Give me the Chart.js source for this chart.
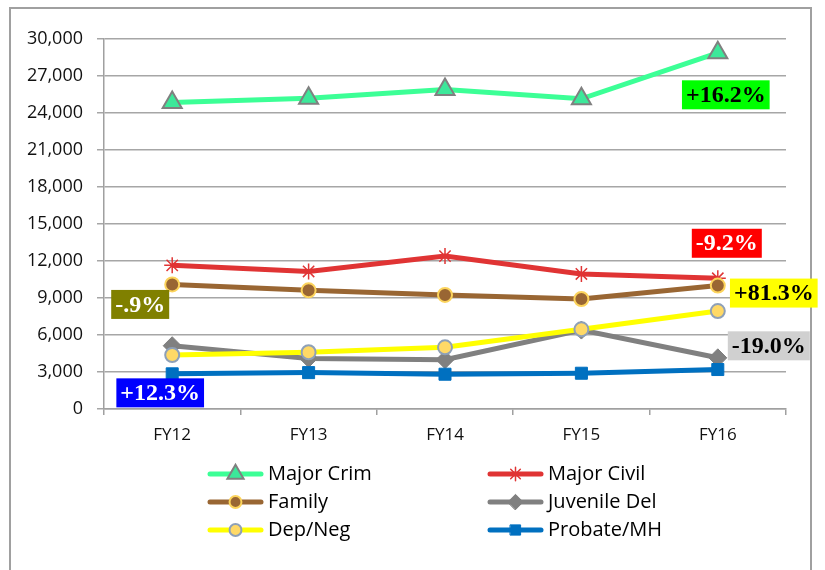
<!DOCTYPE html>
<html>
<head>
<meta charset="utf-8">
<script src="https://cdn.jsdelivr.net/npm/chart.js@4/dist/chart.umd.min.js"></script>
<style>
  html, body { margin: 0; padding: 0; background: #fff; }
  canvas { display: block; }
</style>
</head>
<body>
<canvas id="caseChart" width="825" height="570"></canvas>
<script>
// fiscal years and filings per case type
const years = ["FY12", "FY13", "FY14", "FY15", "FY16"]
const seriesNames = ["Major Crim", "Major Civil", "Family", "Juvenile Del", "Dep/Neg", "Probate/MH"]
const majorCrim = [24850, 25200, 25900, 25150, 28880]
const majorCivil = [11650, 11150, 12400, 10950, 10600]
const family = [10100, 9620, 9250, 8920, 10010]
const juvenileDel = [5130, 4100, 4000, 6400, 4150]
const depNeg = [4380, 4600, 5000, 6460, 7940]
const probateMH = [2850, 2950, 2820, 2900, 3200]
const yTicks = [0, 3000, 6000, 9000, 12000, 15000, 18000, 21000, 24000, 27000, 30000]

// change FY12 -> FY16 callouts: text, series index, year index
const changeText = ["+16.2%", "-9.2%", "+81.3%", "-19.0%", "-.9%", "+12.3%"]
const changeSeries = [0, 1, 4, 3, 2, 5]
const changeYear = [4, 4, 4, 4, 0, 0]

// look of each callout (offset from its point, colours)
const calloutStyle = [
  { dx: 8, dy: 42, bg: "#00ff00", fg: "#000" },
  { dx: 9, dy: -35, bg: "#ff0000", fg: "#fff" },
  { dx: 56, dy: -18, bg: "#ffff00", fg: "#000" },
  { dx: 51, dy: -12, bg: "#d0d0d0", fg: "#000" },
  { dx: -32, dy: 20, bg: "#808000", fg: "#fff" },
  { dx: -12, dy: 19, bg: "#0000ff", fg: "#fff" },
]

const allValues = [majorCrim, majorCivil, family, juvenileDel, depNeg, probateMH]

const looks = [
  { line: "#3cff96", style: "triangle", r: 11, fill: "#3ce89a", edge: "#808080", bw: 2 },
  { line: "#e03434", style: "star", r: 8, fill: "#e03434", edge: "#e03434", bw: 1.5 },
  { line: "#996633", style: "circle", r: 7, fill: "#996633", edge: "#fcd45c", bw: 2 },
  { line: "#808080", style: "rectRot", r: 9, fill: "#808080", edge: "#808080", bw: 1 },
  { line: "#ffff00", style: "circle", r: 7, fill: "#ffd966", edge: "#8ea0b8", bw: 2 },
  { line: "#0070c0", style: "rect", r: 8.5, fill: "#0070c0", edge: "#0070c0", bw: 1 },
]

const datasets = seriesNames.map((name, i) => ({
  label: name,
  data: allValues[i],
  borderColor: looks[i].line,
  borderWidth: 5,
  tension: 0,
  pointStyle: looks[i].style,
  pointRadius: looks[i].r,
  pointHoverRadius: looks[i].r,
  pointBackgroundColor: looks[i].fill,
  pointBorderColor: looks[i].edge,
  pointBorderWidth: looks[i].bw,
  order: 6 - i,
}))

const frame = {
  id: "frame",
  beforeDraw(chart) {
    const ctx = chart.ctx
    ctx.save()
    ctx.fillStyle = "#fff"
    ctx.fillRect(0, 0, chart.width, chart.height)
    ctx.strokeStyle = "#a0a0a0"
    ctx.lineWidth = 2
    ctx.strokeRect(10, 8, 801, 600)
    ctx.restore()
  },
}

const callouts = {
  id: "callouts",
  afterDatasetsDraw(chart) {
    const ctx = chart.ctx
    const x = chart.scales.x
    const y = chart.scales.y
    ctx.save()
    ctx.font = "bold 24px 'Liberation Serif'"
    ctx.textAlign = "center"
    ctx.textBaseline = "middle"
    changeText.forEach((txt, k) => {
      const s = calloutStyle[k]
      const v = allValues[changeSeries[k]][changeYear[k]]
      const cx = x.getPixelForValue(changeYear[k]) + s.dx
      const cy = y.getPixelForValue(v) + s.dy
      const w = ctx.measureText(txt).width + 8
      const h = 29
      ctx.fillStyle = s.bg
      ctx.fillRect(cx - w / 2, cy - h / 2, w, h)
      ctx.fillStyle = s.fg
      ctx.fillText(txt, cx, cy + 1)
    })
    ctx.restore()
  },
}

// two-column legend with line + marker samples
const sideLegend = {
  id: "sideLegend",
  afterDraw(chart) {
    const ctx = chart.ctx
    const colX = [208, 488]
    const rowY = [474, 502, 530]
    ctx.save()
    ctx.font = "20px 'Open Sans'"
    ctx.textBaseline = "middle"
    ctx.fillStyle = "#000"
    seriesNames.forEach((name, i) => {
      const x0 = colX[i % 2]
      const yy = rowY[Math.floor(i / 2)]
      const lk = looks[i]
      ctx.strokeStyle = lk.line
      ctx.lineWidth = 5
      ctx.lineCap = "round"
      ctx.beginPath()
      ctx.moveTo(x0 + 2, yy)
      ctx.lineTo(x0 + 53, yy)
      ctx.stroke()
      ctx.fillStyle = lk.fill
      ctx.strokeStyle = lk.edge
      ctx.lineWidth = lk.bw
      Chart.helpers.drawPoint(ctx, { pointStyle: lk.style, radius: lk.r * 0.85, rotation: 0, borderWidth: lk.bw }, x0 + 27.5, yy)
      ctx.fillStyle = "#000"
      ctx.fillText(name, x0 + 60, yy)
    })
    ctx.restore()
  },
}

new Chart(document.getElementById("caseChart"), {
  type: "line",
  data: { labels: years, datasets: datasets },
  options: {
    responsive: false,
    animation: false,
    events: [],
    layout: { padding: { left: 10, right: 39, top: 39, bottom: 121 } },
    plugins: {
      legend: { display: false },
      tooltip: { enabled: false },
    },
    scales: {
      x: {
        offset: true,
        afterFit(scale) { scale.height = 40 },
        grid: { offset: true, drawOnChartArea: false, tickLength: 6, color: "#a0a0a0", lineWidth: 1.5 },
        border: { color: "#a0a0a0", width: 1.5 },
        ticks: { color: "#111", font: { family: "Open Sans", size: 17 }, padding: 10 },
      },
      y: {
        min: 0,
        max: 30000,
        afterFit(scale) { scale.width = 94 },
        afterBuildTicks(scale) { scale.ticks = yTicks.map((v) => ({ value: v })) },
        grid: { color: "#a6a6a6", lineWidth: 1.5, tickLength: 7 },
        border: { color: "#a0a0a0", width: 1.5 },
        ticks: {
          color: "#111",
          font: { family: "Open Sans", size: 18 },
          padding: 14,
          callback: (v) => v.toLocaleString("en-US"),
        },
      },
    },
  },
  plugins: [frame, callouts, sideLegend],
})
</script>
</body>
</html>
